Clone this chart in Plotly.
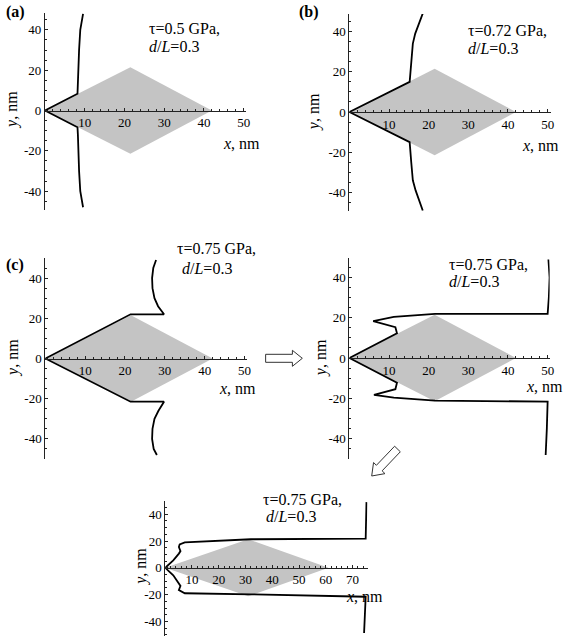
import math
import plotly.graph_objects as go

W, H = 568, 637

# ---------------- data ----------------
diamond_x = [0, 21.5, 42, 21.5, 0]
diamond_y = [0, 21.5, 0, -21.5, 0]
diamond_long_x = [0, 31, 61, 31, 0]
diamond_long_y = [0, 21.3, 0, -21.3, 0]

curve_a_x = [9.6, 9.3, 8.9, 8.6, 8.4, 8.3, 8.2, 0, 8.2, 8.3, 8.4, 8.6, 8.9, 9.3, 9.6]
curve_a_y = [48, 45, 40, 30, 20, 12, 8.3, 0, -8.3, -12, -20, -30, -40, -45, -48]

curve_b_x = [18.5, 17.5, 16.6, 16.0, 15.6, 15.2, 0, 15.2, 15.6, 16.0, 16.7, 17.6, 18.5]
curve_b_y = [49, 44, 39, 34, 25, 15, 0, -15, -25, -34, -39, -44, -49]

curve_c_x = [27.8, 27.1, 26.8, 26.9, 27.4, 28.3, 29.8, 21.4, 0, 21.4, 29.8, 28.4, 27.4, 26.9, 26.8, 27.2, 28.0]
curve_c_y = [49, 45, 40, 35, 30, 26, 22, 22, 0, -21.5, -21.5, -26, -30, -35, -40, -45, -48]

curve_d_x = [50.2, 50.5, 50.3, 50.0, 21.6, 11.2, 6.0, 11.6, 12.0, 0, 12.0, 11.6, 6.2, 11.2, 21.6, 50.0, 49.8, 49.5]
curve_d_y = [49, 40, 30, 22, 22, 20.5, 18.4, 15.3, 12.3, 0, -12.3, -15.5, -18.4, -19.7, -21.2, -21.7, -35, -48.3]

curve_e_x = [75.2, 75.0, 74.9, 32, 7.3, 5.4, 5.1, 5.7, 5.1, 3.0, 0, 3.0, 5.1, 5.7, 5.1, 6.0, 7.3, 32, 74.9, 74.6, 74.3]
curve_e_y = [49, 35, 21.8, 21.3, 19, 17.5, 15.5, 12.5, 10.6, 5.6, 0, -5.6, -11.5, -13.5, -16.6, -17.8, -19, -19.8, -21.6, -35, -48.6]

tau_labels = ["τ=0.5 GPa,", "τ=0.72 GPa,", "τ=0.75 GPa,", "τ=0.75 GPa,", "τ=0.75 GPa,"]
ratio_label = "<i>d</i>/<i>L</i>=0.3"
panel_labels = ["(a)", "(b)", "(c)", "", ""]
x_ticks_short = [10, 20, 30, 40, 50]
x_ticks_long = [10, 20, 30, 40, 50, 60, 70]
y_ticks = [-40, -20, 0, 20, 40]
y_tick_text = ["-40", "-20", "0", "20", "40"]

# ---------------- layout (pixel geometry) ----------------
panels = [
    dict(cx=curve_a_x, cy=curve_a_y, dx=diamond_x, dy=diamond_y, xt=x_ticks_short,
         x0=45.3, sx=4.01, xmax=50.6, y0=110.5, sy=2.015, ymin=-49.5, ymax=48.5,
         xt_pos=(244, 143), yt_pos=(12, 110), tau_pos=(148, 29), rat_pos=(148, 46), lab_pos=(16, 12)),
    dict(cx=curve_b_x, cy=curve_b_y, dx=diamond_x, dy=diamond_y, xt=x_ticks_short,
         x0=352.5, sx=4.0, xmax=50.8, y0=112, sy=2.01, ymin=-49.5, ymax=48.8,
         xt_pos=(545, 145), yt_pos=(317, 112), tau_pos=(470, 31), rat_pos=(470, 48), lab_pos=(312, 12)),
    dict(cx=curve_c_x, cy=curve_c_y, dx=diamond_x, dy=diamond_y, xt=x_ticks_short,
         x0=45.7, sx=4.02, xmax=50.5, y0=358.5, sy=2.01, ymin=-50, ymax=50,
         xt_pos=(240, 388), yt_pos=(13, 358), tau_pos=(177, 248), rat_pos=(182, 268), lab_pos=(15, 265)),
    dict(cx=curve_d_x, cy=curve_d_y, dx=diamond_x, dy=diamond_y, xt=x_ticks_short,
         x0=352.5, sx=4.0, xmax=50.5, y0=358, sy=2.01, ymin=-50, ymax=50,
         xt_pos=(549, 386), yt_pos=(324, 358), tau_pos=(451, 264), rat_pos=(451, 281), lab_pos=None),
    dict(cx=curve_e_x, cy=curve_e_y, dx=diamond_long_x, dy=diamond_long_y, xt=x_ticks_long,
         x0=166.7, sx=2.7, xmax=75.6, y0=567.8, sy=1.34, ymin=-51, ymax=50,
         xt_pos=(368, 596), yt_pos=(142, 567), tau_pos=(263, 499), rat_pos=(266, 516), lab_pos=None),
]

FONT = "Liberation Serif, Times New Roman, DejaVu Serif, serif"
AX_COL = "#222222"


def px(x):
    return x / W


def py(y):
    return 1 - y / H


fig = go.Figure()
annotations = []
layout = {}

for i, p in enumerate(panels, start=1):
    xs = "x" if i == 1 else f"x{i}"
    ys = "y" if i == 1 else f"y{i}"
    xk = "xaxis" if i == 1 else f"xaxis{i}"
    yk = "yaxis" if i == 1 else f"yaxis{i}"

    fig.add_trace(go.Scatter(x=p["dx"], y=p["dy"], fill="toself", fillcolor="#c4c4c4",
                             line=dict(width=0), mode="lines", xaxis=xs, yaxis=ys,
                             hoverinfo="skip", showlegend=False))
    fig.add_trace(go.Scatter(x=p["cx"], y=p["cy"], mode="lines",
                             line=dict(color="black", width=1.8), xaxis=xs, yaxis=ys,
                             showlegend=False))

    xd = [px(p["x0"]), px(p["x0"] + p["sx"] * p["xmax"])]
    yd = [py(p["y0"] - p["sy"] * p["ymin"]), py(p["y0"] - p["sy"] * p["ymax"])]

    layout[xk] = dict(domain=xd, range=[0, p["xmax"]], anchor="free", position=py(p["y0"]),
                      showgrid=False, zeroline=False, showline=True, linecolor=AX_COL, linewidth=1,
                      tickmode="array", tickvals=p["xt"], ticktext=[str(v) for v in p["xt"]],
                      ticks="inside", ticklen=3, tickcolor=AX_COL, tickwidth=1,
                      minor=dict(tick0=0, dtick=2, ticks="inside", ticklen=2, tickcolor=AX_COL),
                      tickfont=dict(family=FONT, size=13, color="black"), fixedrange=True)
    layout[yk] = dict(domain=yd, range=[p["ymin"], p["ymax"]], anchor=xs,
                      showgrid=False, zeroline=False, showline=True, linecolor=AX_COL, linewidth=1,
                      tickmode="array", tickvals=y_ticks, ticktext=y_tick_text,
                      ticks="inside", ticklen=3, tickcolor=AX_COL, tickwidth=1,
                      minor=dict(tick0=0, dtick=5, ticks="inside", ticklen=2, tickcolor=AX_COL),
                      tickfont=dict(family=FONT, size=13, color="black"), fixedrange=True)

    annotations.append(dict(x=px(p["xt_pos"][0]), y=py(p["xt_pos"][1]), xref="paper", yref="paper",
                            text="<i>x</i>, nm", showarrow=False, xanchor="center", yanchor="middle",
                            font=dict(family=FONT, size=16, color="black")))
    annotations.append(dict(x=px(p["yt_pos"][0]), y=py(p["yt_pos"][1]), xref="paper", yref="paper",
                            text="<i>y</i>, nm", showarrow=False, textangle=-90,
                            xanchor="center", yanchor="middle",
                            font=dict(family=FONT, size=16, color="black")))
    annotations.append(dict(x=px(p["tau_pos"][0]), y=py(p["tau_pos"][1]), xref="paper", yref="paper",
                            text=tau_labels[i - 1], showarrow=False, xanchor="left", yanchor="middle",
                            font=dict(family=FONT, size=16, color="black")))
    annotations.append(dict(x=px(p["rat_pos"][0]), y=py(p["rat_pos"][1]), xref="paper", yref="paper",
                            text=ratio_label, showarrow=False, xanchor="left", yanchor="middle",
                            font=dict(family=FONT, size=16, color="black")))
    if p["lab_pos"] is not None:
        annotations.append(dict(x=px(p["lab_pos"][0]), y=py(p["lab_pos"][1]), xref="paper", yref="paper",
                                text=f"<b>{panel_labels[i - 1]}</b>", showarrow=False,
                                xanchor="center", yanchor="middle",
                                font=dict(family=FONT, size=16, color="black")))


def arrow_path(tail, tip, shaft_hw, head_len, head_hw):
    tx, ty = tail
    hx, hy = tip
    L = math.hypot(hx - tx, hy - ty)
    ux, uy = (hx - tx) / L, (hy - ty) / L
    nx, ny = -uy, ux
    bx, by = hx - ux * head_len, hy - uy * head_len
    pts = [
        (tx + nx * shaft_hw, ty + ny * shaft_hw),
        (bx + nx * shaft_hw, by + ny * shaft_hw),
        (bx + nx * head_hw, by + ny * head_hw),
        (hx, hy),
        (bx - nx * head_hw, by - ny * head_hw),
        (bx - nx * shaft_hw, by - ny * shaft_hw),
        (tx - nx * shaft_hw, ty - ny * shaft_hw),
    ]
    s = "M " + " L ".join(f"{px(a):.5f},{py(b):.5f}" for a, b in pts) + " Z"
    return s


shapes = [
    dict(type="path", xref="paper", yref="paper",
         path=arrow_path((268, 358.3), (305, 358.3), 4.0, 10, 8),
         line=dict(color="#333333", width=1), fillcolor="white"),
    dict(type="path", xref="paper", yref="paper",
         path=arrow_path((401, 449), (375, 476), 4.0, 11, 8),
         line=dict(color="#333333", width=1), fillcolor="white"),
]

fig.update_layout(
    width=W, height=H, margin=dict(l=0, r=0, t=0, b=0),
    paper_bgcolor="white", plot_bgcolor="white",
    showlegend=False, annotations=annotations, shapes=shapes,
    **layout,
)

fig.write_html("out.html", config={"displayModeBar": False},
               post_script="document.body.style.margin='0';document.body.style.padding='0';")
